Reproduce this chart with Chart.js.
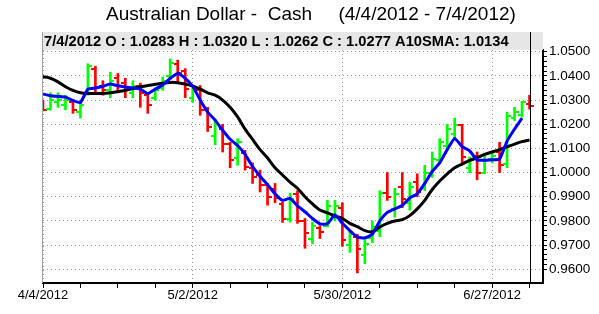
<!DOCTYPE html>
<html><head><meta charset="utf-8">
<script src="https://cdn.jsdelivr.net/npm/chart.js@4.4.0/dist/chart.umd.min.js"></script>
<style>html,body{margin:0;padding:0;background:#fff;}canvas{display:block;}</style>
</head><body>
<canvas id="c" width="599" height="314"></canvas>
<script>
const titleText = 'Australian Dollar -  Cash     (4/4/2012 - 7/4/2012)';
const infoText = '7/4/2012 O : 1.0283 H : 1.0320 L : 1.0262 C : 1.0277 A10SMA: 1.0134';

const dates = ['4/4/2012','4/5/2012','4/6/2012','4/9/2012','4/10/2012','4/11/2012','4/12/2012','4/13/2012','4/16/2012','4/17/2012','4/18/2012','4/19/2012','4/20/2012','4/23/2012','4/24/2012','4/25/2012','4/26/2012','4/27/2012','4/30/2012',
'5/1/2012','5/2/2012','5/3/2012','5/4/2012','5/7/2012','5/8/2012','5/9/2012','5/10/2012','5/11/2012','5/14/2012','5/15/2012','5/16/2012','5/17/2012','5/18/2012','5/21/2012','5/22/2012','5/23/2012','5/24/2012','5/25/2012','5/28/2012','5/29/2012','5/30/2012','5/31/2012',
'6/1/2012','6/4/2012','6/5/2012','6/6/2012','6/7/2012','6/8/2012','6/11/2012','6/12/2012','6/13/2012','6/14/2012','6/15/2012','6/18/2012','6/19/2012','6/20/2012','6/21/2012','6/22/2012','6/25/2012','6/26/2012','6/27/2012','6/28/2012','6/29/2012',
'7/2/2012','7/3/2012','7/4/2012'];

const opens = [1.0285,1.0265,1.0290,1.0280,1.0290,1.0250,1.0330,1.0430,1.0360,1.0340,1.0390,1.0370,1.0330,1.0360,1.0320,1.0310,1.0350,1.0400,1.0450,1.0420,
1.0310,1.0340,1.0260,1.0150,1.0180,1.0120,1.0060,1.0080,1.0020,0.9990,0.9950,0.9930,0.9870,0.9810,0.9910,0.9800,0.9725,0.9770,0.9780,0.9820,
0.9855,0.9700,0.9735,0.9660,0.9730,0.9760,0.9915,0.9850,0.9940,0.9875,0.9960,0.9935,1.0000,1.0050,1.0110,1.0160,1.0195,1.0020,1.0070,1.0000,
1.0055,1.0085,1.0035,1.0225,1.0240,1.0283];
const highs = [1.0300,1.0330,1.0330,1.0320,1.0300,1.0290,1.0450,1.0440,1.0380,1.0415,1.0410,1.0390,1.0380,1.0370,1.0330,1.0350,1.0395,1.0470,1.0465,1.0430,
1.0350,1.0360,1.0270,1.0220,1.0200,1.0125,1.0140,1.0092,1.0040,1.0010,0.9955,0.9955,0.9878,0.9915,0.9925,0.9810,0.9795,0.9780,0.9885,0.9885,
0.9875,0.9755,0.9745,0.9727,0.9800,0.9925,1.0000,0.9935,1.0000,0.9960,0.9995,1.0030,1.0085,1.0140,1.0200,1.0225,1.0200,1.0065,1.0085,1.0080,
1.0085,1.0125,1.0250,1.0270,1.0295,1.0320];
const lows = [1.0255,1.0258,1.0270,1.0260,1.0245,1.0225,1.0320,1.0330,1.0320,1.0310,1.0330,1.0310,1.0310,1.0270,1.0245,1.0300,1.0340,1.0385,1.0375,1.0310,
1.0290,1.0237,1.0170,1.0115,1.0085,1.0020,1.0030,1.0010,0.9955,0.9920,0.9865,0.9875,0.9794,0.9795,0.9790,0.9687,0.9705,0.9727,0.9775,0.9800,
0.9695,0.9670,0.9585,0.9623,0.9710,0.9735,0.9885,0.9815,0.9855,0.9845,0.9900,0.9925,0.9980,1.0040,1.0090,1.0140,1.0035,1.0000,0.9970,0.9995,
1.0040,1.0000,1.0020,1.0215,1.0230,1.0262];
const closes = [1.0260,1.0300,1.0300,1.0300,1.0260,1.0280,1.0440,1.0350,1.0340,1.0380,1.0360,1.0340,1.0360,1.0330,1.0280,1.0340,1.0380,1.0455,1.0410,1.0345,
1.0340,1.0260,1.0190,1.0200,1.0120,1.0050,1.0125,1.0025,0.9980,0.9950,0.9900,0.9895,0.9810,0.9890,0.9800,0.9750,0.9780,0.9755,0.9860,0.9860,
0.9720,0.9745,0.9685,0.9705,0.9775,0.9915,0.9900,0.9910,0.9890,0.9940,0.9920,1.0000,1.0055,1.0125,1.0180,1.0195,1.0065,1.0050,1.0000,1.0050,
1.0070,1.0030,1.0235,1.0250,1.0290,1.0277];

// black line (A10SMA)
const smaBlack = [1.0397,1.0390,1.0375,1.0355,1.0340,1.0330,1.0327,1.0327,1.0327,1.0330,1.0335,1.0340,1.0348,1.0355,1.0360,1.0365,1.0370,1.0373,1.0372,1.0366,
1.0358,1.0345,1.0330,1.0320,1.0300,1.0270,1.0230,1.0180,1.0137,1.0095,1.0060,1.0020,0.9990,0.9960,0.9935,0.9900,0.9870,0.9845,0.9833,0.9820,
0.9810,0.9790,0.9776,0.9760,0.9755,0.9775,0.9790,0.9800,0.9805,0.9822,0.9850,0.9885,0.9930,0.9965,0.9995,1.0020,1.0035,1.0050,1.0062,1.0075,
1.0085,1.0095,1.0106,1.0118,1.0128,1.0135];
// blue line
const maBlue = [1.0325,1.0318,1.0315,1.0312,1.0298,1.0290,1.0345,1.0350,1.0357,1.0366,1.0359,1.0354,1.0350,1.0345,1.0327,1.0345,1.0362,1.0390,1.0410,1.0390,
1.0357,1.0300,1.0250,1.0217,1.0175,1.0138,1.0112,1.0075,1.0025,0.9985,0.9950,0.9912,0.9885,0.9893,0.9862,0.9838,0.9810,0.9788,0.9788,0.9825,
0.9790,0.9760,0.9733,0.9730,0.9745,0.9800,0.9835,0.9850,0.9864,0.9895,0.9912,0.9955,1.0005,1.0040,1.0095,1.0141,1.0107,1.0090,1.0052,1.0051,
1.0053,1.0056,1.0130,1.0180,1.0225,null];

const xTickLabels = ['4/4/2012','5/2/2012','5/30/2012','6/27/2012'];
const yTickLabels = ['0.9600','0.9700','0.9800','0.9900','1.0000','1.0100','1.0200','1.0300','1.0400','1.0500'];

const UP = '#00ff00', DOWN = '#ff0000';
function tickImg(color, side) {
  const cv = document.createElement('canvas');
  cv.width = 8; cv.height = 2;
  const g = cv.getContext('2d');
  g.fillStyle = color;
  g.fillRect(side === 'left' ? 0 : 4, 0, 4, 2);
  return cv;
}
const imgs = {
  upL: tickImg(UP, 'left'), upR: tickImg(UP, 'right'),
  dnL: tickImg(DOWN, 'left'), dnR: tickImg(DOWN, 'right')
};
const isUp = dates.map((d, i) => closes[i] >= opens[i]);
const majorIdx = xTickLabels.map(l => dates.indexOf(l));
const yMajor = yTickLabels.map(Number);

const decor = {
  id: 'decor',
  beforeDraw(chart) {
    const c = chart.ctx; c.save(); c.fillStyle = '#fff'; c.fillRect(0, 0, chart.width, chart.height); c.restore();
  },
  afterDraw(chart) {
    const {ctx, chartArea: a} = chart;
    const xs = chart.scales.x;
    ctx.save();
    ctx.fillStyle = '#000';
    ctx.font = '19px "Liberation Sans", Arial, sans-serif';
    ctx.textAlign = 'center'; ctx.textBaseline = 'middle';
    ctx.fillText(titleText, 311, 15);
    ctx.fillStyle = '#e6e6e6';
    ctx.fillRect(a.left - 1, 32, a.right - a.left + 1, 18);
    ctx.fillStyle = '#000';
    ctx.font = 'bold 14.7px "Liberation Sans", Arial, sans-serif';
    ctx.textAlign = 'left';
    ctx.fillText(infoText, a.left + 1, 41.5);
    ctx.strokeStyle = '#a0a0a0'; ctx.lineWidth = 1;
    ctx.beginPath(); ctx.moveTo(a.left - 0.5, 32); ctx.lineTo(a.left - 0.5, a.bottom); ctx.stroke();
    const cx = Math.round(xs.getPixelForValue(dates.length - 1)) + 0.5;
    ctx.strokeStyle = '#000';
    ctx.beginPath(); ctx.moveTo(cx, 32); ctx.lineTo(cx, a.bottom); ctx.stroke();
    ctx.restore();
  }
};

new Chart(document.getElementById('c'), {
  data: {
    datasets: [
      { type: 'line', order: 0, data: maBlue.map((v, i) => ({x: i, y: v})), borderColor: '#0000ff', borderWidth: 3, pointRadius: 0, tension: 0.15, spanGaps: false },
      { type: 'line', order: 1, data: smaBlack.map((v, i) => ({x: i, y: v})), borderColor: '#000000', borderWidth: 3, pointRadius: 0, tension: 0.3 },
      { type: 'scatter', order: 2, data: opens.map((v, i) => ({x: i, y: v})), pointStyle: isUp.map(u => u ? imgs.upL : imgs.dnL), pointRadius: 3 },
      { type: 'scatter', order: 2, data: closes.map((v, i) => ({x: i, y: v})), pointStyle: isUp.map(u => u ? imgs.upR : imgs.dnR), pointRadius: 3 },
      { type: 'bar', order: 3, data: lows.map((v, i) => ({x: i, y: [v, highs[i]]})), backgroundColor: isUp.map(u => u ? UP : DOWN), borderWidth: 0, barThickness: 2 }
    ]
  },
  options: {
    responsive: false,
    animation: false,
    devicePixelRatio: 1,
    events: [],
    layout: { padding: { left: 43, top: 50, right: 0, bottom: 0 } },
    plugins: { legend: { display: false }, tooltip: { enabled: false }, title: { display: false } },
    scales: {
      x: {
        type: 'linear', min: 0, max: 66.8, offset: false,
        afterBuildTicks: s => { s.ticks = dates.map((d, i) => i).filter(i => i % 5 === 0).map(v => ({value: v})); },
        afterFit: s => { s.height = 31; },
        ticks: {
          autoSkip: false, maxRotation: 0, padding: 0,
          color: '#000', font: { family: '"Liberation Sans", Arial, sans-serif', size: 13 },
          callback: v => majorIdx.includes(v) ? dates[v] : ''
        },
        grid: {
          offset: false,
          color: c => (c.tick && majorIdx.includes(c.tick.value)) ? '#9a9a9a' : 'rgba(0,0,0,0)',
          tickColor: '#000', tickLength: 5, lineWidth: 1
        },
        border: { display: true, color: '#000', width: 2, dash: [1, 3] }
      },
      y: {
        type: 'linear', position: 'right', min: 0.95432, max: 1.0507,
        afterBuildTicks: s => {
          const t = [];
          for (let k = 0; k <= 45; k++) t.push({value: Math.round((0.96 + k * 0.002) * 10000) / 10000});
          s.ticks = t;
        },
        afterFit: s => { s.width = 56; },
        ticks: {
          autoSkip: false, padding: 2,
          color: '#000', font: { family: '"Liberation Sans", Arial, sans-serif', size: 13.5 },
          callback: v => { const i = yMajor.findIndex(m => Math.abs(m - v) < 1e-6); return i >= 0 ? yTickLabels[i] : ''; }
        },
        grid: {
          color: c => (c.tick && yMajor.some(m => Math.abs(m - c.tick.value) < 1e-6)) ? '#9a9a9a' : 'rgba(0,0,0,0)',
          tickColor: '#000', tickLength: 4, lineWidth: 1
        },
        border: { display: true, color: '#000', width: 2, dash: [1, 3] }
      }
    }
  },
  plugins: [decor]
});
</script>
</body></html>
